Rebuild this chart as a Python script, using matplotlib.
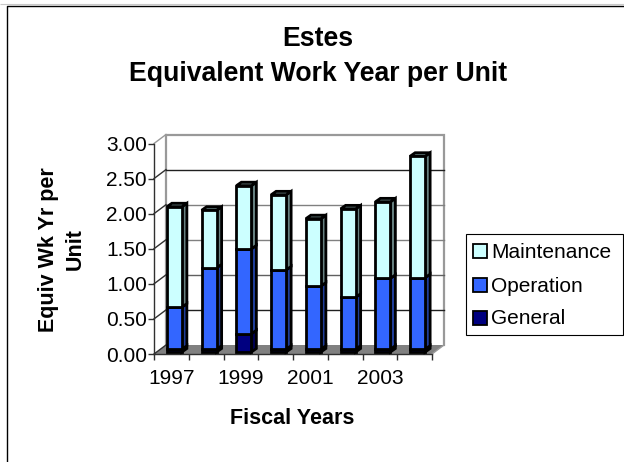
import matplotlib
matplotlib.use("Agg")
import matplotlib.pyplot as plt
from matplotlib.lines import Line2D
from matplotlib.patches import Polygon, Rectangle

plt.rcParams["font.family"] = ["Liberation Sans", "DejaVu Sans"]

years = [1997, 1998, 1999, 2000, 2001, 2002, 2003, 2004]
general = [0.04, 0.04, 0.26, 0.04, 0.04, 0.04, 0.04, 0.04]
operation = [0.60, 1.16, 1.21, 1.13, 0.90, 0.74, 1.01, 1.02]
maintenance = [1.43, 0.82, 0.90, 1.07, 0.96, 1.26, 1.09, 1.73]

series = [
    ("General", general, "#000080", "#000050"),
    ("Operation", operation, "#3366FF", "#1F3D99"),
    ("Maintenance", maintenance, "#CCFFFF", "#668080"),
]
y_ticks = [0.0, 0.5, 1.0, 1.5, 2.0, 2.5, 3.0]
grid_colors = ["#808080", "#202020", "#606060", "#808080", "#808080", "#202020", "#999999"]

W, H = 624, 462
fig = plt.figure(figsize=(W / 100, H / 100), dpi=100, facecolor="white")


def px_line(xs, ys, color, lw):
    fig.add_artist(Line2D([x / W for x in xs], [1 - y / H for y in ys], transform=fig.transFigure,
                          color=color, lw=lw, solid_capstyle="butt"))


# chart frame only shows on the top and left of the crop
px_line([0, W], [4, 4], "#c8c8c8", 0.8)
px_line([6.5, 6.5, W], [H, 5.5, 5.5], "black", 1.0)

# front plane of the fake 3D box, pixels from the reference
left, right, top, bottom = 154, 432, 143.5, 354
ax = fig.add_axes([left / W, 1 - bottom / H, (right - left) / W, (bottom - top) / H])
ax.set_xlim(0, len(years))
ax.set_ylim(0, 3)
ax.patch.set_alpha(0)
for name in ["top", "right"]:
    ax.spines[name].set_visible(False)
for name in ["left", "bottom"]:
    ax.spines[name].set_color("#303030")
    ax.spines[name].set_linewidth(1.0)

# depth as data units
dx = 12 / (right - left) * len(years)
dy = 9 / (bottom - top) * 3


def add_poly(pts, fc, ec="none", lw=0.0, z=1):
    ax.add_patch(Polygon(pts, closed=True, fc=fc, ec=ec, lw=lw, zorder=z, clip_on=False,
                         joinstyle="miter"))


# floor and walls
n = len(years)
add_poly([(0, 0), (dx, dy), (n + dx, dy), (n, 0)], "#808080", z=1)
ax.plot([dx, dx, n + dx, n + dx], [dy, 3 + dy, 3 + dy, dy], color="#999999", lw=1.6,
        clip_on=False, zorder=1.5, solid_joinstyle="miter")
ax.plot([n, n + dx], [0, dy], color="#999999", lw=1.0, clip_on=False, zorder=1.5)
for tick, c in zip(y_ticks, grid_colors):
    if tick > 0 and tick < 3:
        ax.plot([dx, n + dx], [tick + dy, tick + dy], color=c, lw=1.0, clip_on=False, zorder=1.5)
    ax.plot([0, dx], [tick, tick + dy], color="#999999" if tick == 3 else "#303030", lw=1.0,
            clip_on=False, zorder=1.5)

# bars sit a little behind the front plane
width = 15 / (right - left) * len(years)
depth_x = 5 / (right - left) * len(years)
depth_y = 3.5 / (bottom - top) * 3
shift_x = 3 / (right - left) * len(years)
shift_y = 2.0 / (bottom - top) * 3
for i in range(n):
    base = shift_y
    x0 = i + 0.5 - width / 2 + shift_x
    x1 = x0 + width
    for name, vals, color, side in series:
        v = vals[i]
        ax.bar(x0, v, width=width, bottom=base, align="edge", color=color, edgecolor="black",
               linewidth=2.0, zorder=3, clip_on=False)
        add_poly([(x1, base), (x1 + depth_x, base + depth_y), (x1 + depth_x, base + v + depth_y),
                  (x1, base + v)], side, "black", 2.0, 2.9)
        base += v
    add_poly([(x0, base), (x0 + depth_x, base + depth_y), (x1 + depth_x, base + depth_y), (x1, base)],
             "#668080", "black", 2.0, 2.9)

# ticks on the category edges, labels in the middle of every other category
ax.set_xticks(range(n + 1))
ax.set_xticklabels([])
ax.set_xticks([i + 0.5 for i in range(0, n, 2)], minor=True)
ax.set_xticklabels([str(years[i]) for i in range(0, n, 2)], minor=True)
ax.set_yticks(y_ticks)
ax.set_yticklabels([f"{t:.2f}" for t in y_ticks])
ax.tick_params(axis="both", which="major", length=4, width=1.0, color="#303030", labelsize=15, pad=1)
ax.tick_params(axis="x", which="minor", length=0, labelsize=15, pad=11)

fig.text(292 / W, 1 - 419 / H, "Fiscal Years", ha="center", va="center", fontsize=15.5, fontweight="bold")
fig.text(49 / W, 1 - 250 / H, "Equiv Wk Yr per", rotation=90, ha="center", va="center",
         fontsize=15.5, fontweight="bold")
fig.text(75 / W, 1 - 249 / H, "Unit", rotation=90, ha="center", va="center",
         fontsize=15.5, fontweight="bold")

fig.text(318 / W, 1 - 39 / H, "Estes", ha="center", va="center", fontsize=19.2, fontweight="bold")
fig.text(318 / W, 1 - 74 / H, "Equivalent Work Year per Unit", ha="center", va="center",
         fontsize=19.2, fontweight="bold")

# legend box, drawn by hand to match the spacing
fig.add_artist(Rectangle((465.5 / W, 1 - 334.5 / H), 157 / W, 101 / H, transform=fig.transFigure,
                         fc="white", ec="black", lw=0.8))
legend_rows = [("Maintenance", "#CCFFFF", 252), ("Operation", "#3366FF", 286), ("General", "#000080", 319)]
for label, color, ypos in legend_rows:
    fig.add_artist(Rectangle((473 / W, 1 - (ypos + 6) / H), 14 / W, 14 / H, transform=fig.transFigure,
                             fc=color, ec="black", lw=1.3))
    fig.text(491.5 / W, 1 - ypos / H, label, ha="left", va="center", fontsize=15)

fig.savefig("out.png", dpi=100, facecolor="white")
